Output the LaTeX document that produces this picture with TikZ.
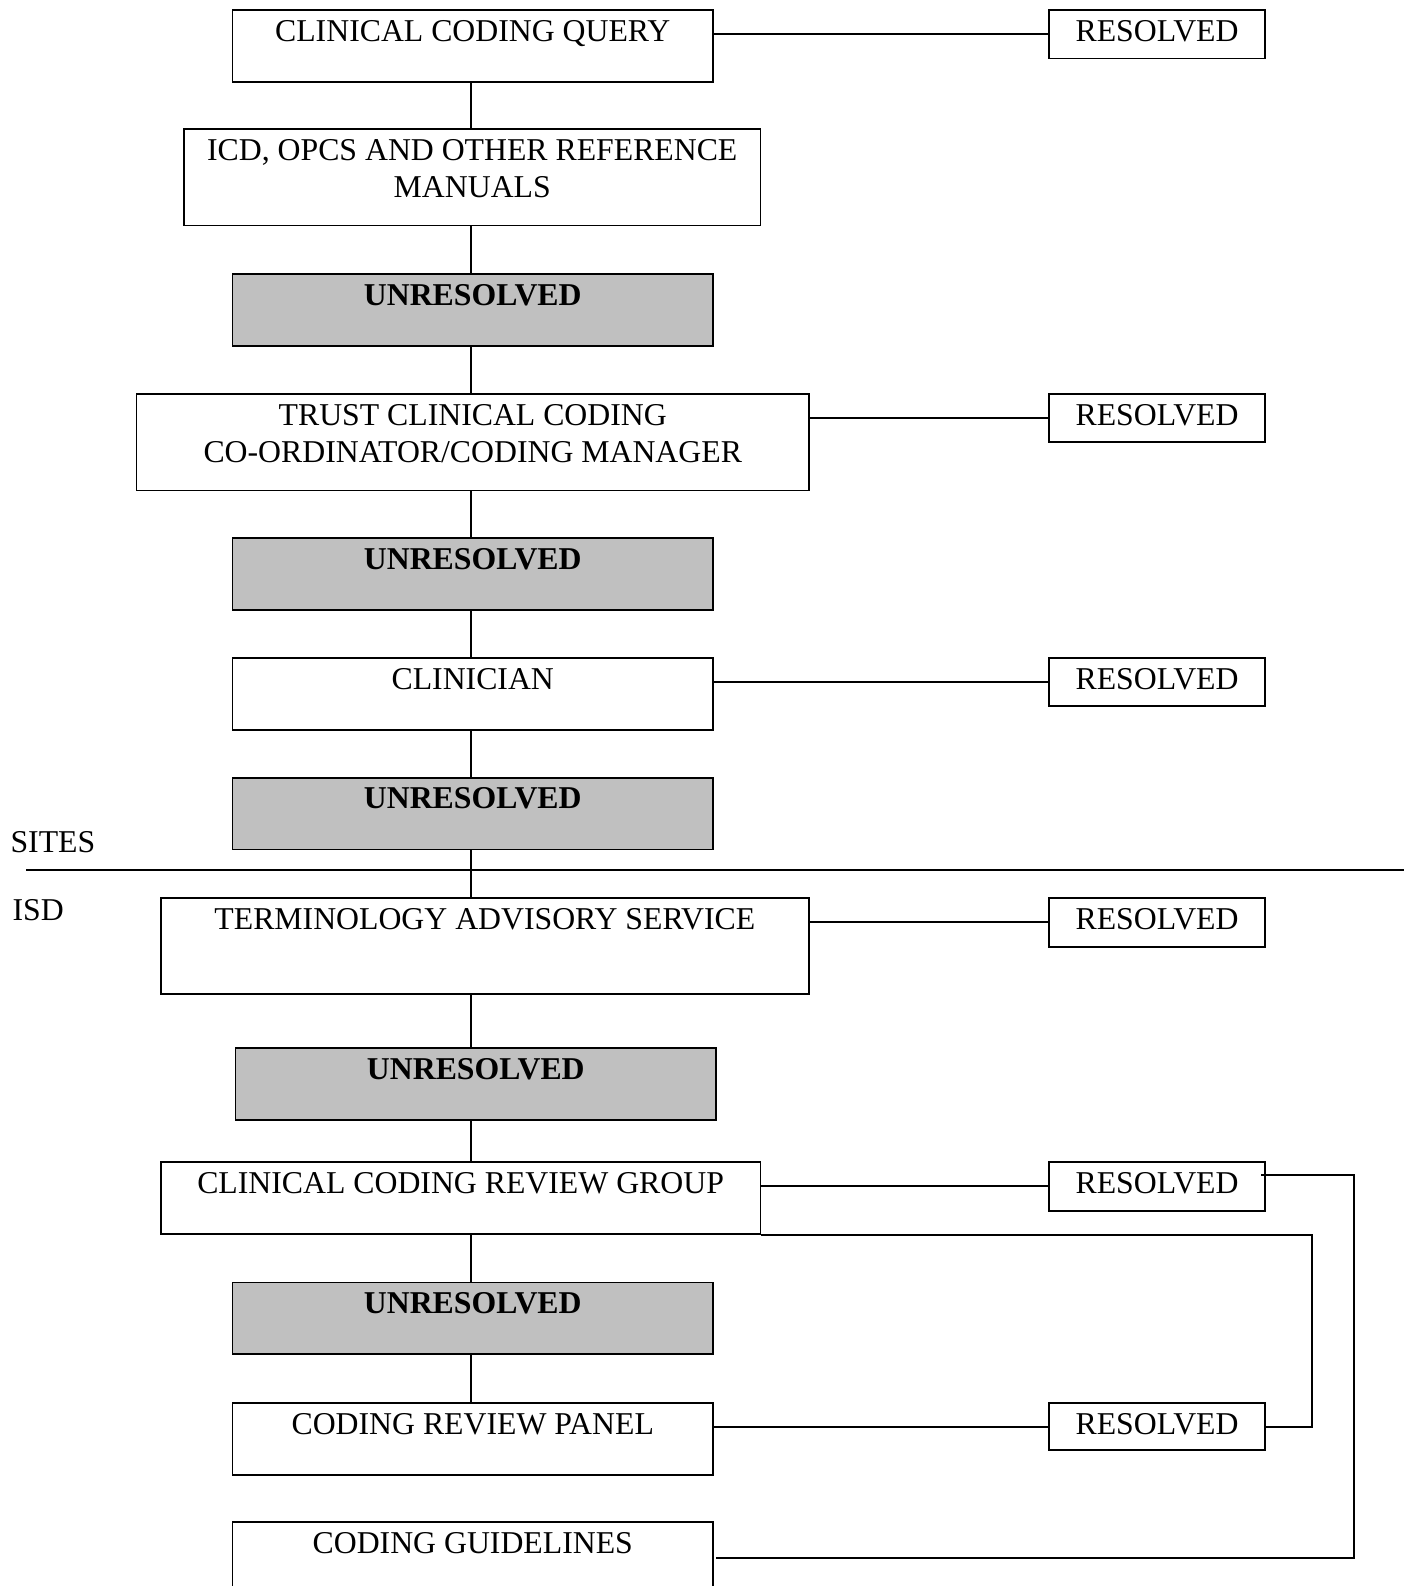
\documentclass[tikz,border=0pt]{standalone}
\usepackage{fontspec}
\setmainfont{Liberation Serif}
\definecolor{unresgray}{RGB}{192,192,192}
\begin{document}
\begin{tikzpicture}[x=0.5pt,y=-0.5pt,
  box/.style={draw,line width=0.9pt,rectangle,inner sep=0pt,anchor=north west,
    minimum width=237.5pt,minimum height=35.5pt},
  resbox/.style={box,minimum width=107pt,minimum height=24pt},
  unres/.style={box,fill=unresgray},
  txt/.style={inner sep=0pt,anchor=north,align=center,
    font=\fontsize{15.7}{18.3}\selectfont},
  btxt/.style={txt,font=\fontsize{15.7}{18.3}\selectfont\bfseries},
  conn/.style={line width=0.9pt}]
\useasboundingbox (0,0) rectangle (1393,1568);
\coordinate (sp) at (466,0);

% boxes
\node[box] (b1) at (229,9) {};
\node[resbox] (r1) at (1036,9) {};
\node[box,minimum width=285pt,minimum height=47.5pt] (b2) at (181,127) {};
\node[unres] (u1) at (229,270) {};
\node[box,minimum width=332.5pt,minimum height=47.5pt] (b3) at (134,389) {};
\node[resbox,minimum height=23.5pt] (r2) at (1036,389) {};
\node[unres] (u2) at (229,531) {};
\node[box] (cl) at (229,650) {};
\node[resbox,minimum height=23.5pt] (r3) at (1036,650) {};
\node[unres] (u3) at (229,768) {};
\node[box,minimum width=320.5pt,minimum height=47.5pt] (tas) at (158,887) {};
\node[resbox] (r4) at (1036,887) {};
\node[unres] (u4) at (232,1035) {};
\node[box,minimum width=296.5pt] (ccrg) at (158,1148) {};
\node[resbox] (r5) at (1036,1148) {};
\node[unres] (u5) at (229,1267) {};
\node[box] (crp) at (229,1386) {};
\node[resbox,minimum height=23.5pt] (r6) at (1036,1386) {};
\node[box] (cg) at (229,1504) {};

% texts
\node[txt] (t-b1) at ([yshift=-5.3pt]b1.north) {CLINICAL CODING QUERY};
\node[txt] (t-r1) at ([yshift=-5.3pt]r1.north) {RESOLVED};
\node[txt] (t-b2) at ([yshift=-5.3pt]b2.north) {ICD, OPCS AND OTHER REFERENCE\\MANUALS};
\node[btxt] (t-u1) at ([yshift=-5.3pt]u1.north) {UNRESOLVED};
\node[txt] (t-b3) at ([yshift=-5.3pt]b3.north) {TRUST CLINICAL CODING\\CO-ORDINATOR/CODING MANAGER};
\node[txt] (t-r2) at ([yshift=-5.3pt]r2.north) {RESOLVED};
\node[btxt] (t-u2) at ([yshift=-5.3pt]u2.north) {UNRESOLVED};
\node[txt] (t-cl) at ([yshift=-5.3pt]cl.north) {CLINICIAN};
\node[txt] (t-r3) at ([yshift=-5.3pt]r3.north) {RESOLVED};
\node[btxt] (t-u3) at ([yshift=-5.3pt]u3.north) {UNRESOLVED};
\node[txt] (t-tas) at ([yshift=-5.3pt]tas.north) {TERMINOLOGY ADVISORY SERVICE};
\node[txt] (t-r4) at ([yshift=-5.3pt]r4.north) {RESOLVED};
\node[btxt] (t-u4) at ([yshift=-5.3pt]u4.north) {UNRESOLVED};
\node[txt] (t-ccrg) at ([yshift=-5.3pt]ccrg.north) {CLINICAL CODING REVIEW GROUP};
\node[txt] (t-r5) at ([yshift=-5.3pt]r5.north) {RESOLVED};
\node[btxt] (t-u5) at ([yshift=-5.3pt]u5.north) {UNRESOLVED};
\node[txt] (t-crp) at ([yshift=-5.3pt]crp.north) {CODING REVIEW PANEL};
\node[txt] (t-r6) at ([yshift=-5.3pt]r6.north) {RESOLVED};
\node[txt] (t-cg) at ([yshift=-5.3pt]cg.north) {CODING GUIDELINES};

% section labels and divider
\node[inner sep=0pt,anchor=base west,font=\fontsize{15.7}{18.5}\selectfont] (sites) at (10,842.4) {SITES};
\node[inner sep=0pt,anchor=base west,font=\fontsize{15.7}{18.5}\selectfont] (isd) at (12,910.4) {ISD};
\coordinate (dl) at (26,860);
\coordinate (dr) at (1388,860);
\draw[conn] (dl) -- (dr);

% spine connectors
\foreach \a/\b in {b1/b2,b2/u1,u1/b3,b3/u2,u2/cl,cl/u3,u3/tas,tas/u4,u4/ccrg,ccrg/u5,u5/crp}
  \draw[conn] (\a.south -| sp) -- (\b.north -| sp);

% resolved connectors
\draw[conn] (r1.west) -- (r1.west -| b1.east);
\draw[conn] (r2.west) -- (r2.west -| b3.east);
\draw[conn] (r3.west) -- (r3.west -| cl.east);
\draw[conn] (r4.west) -- (r4.west -| tas.east);
\draw[conn] (r5.west) -- (r5.west -| ccrg.east);
\draw[conn] (r6.west) -- (r6.west -| crp.east);

% loops on the right
\coordinate (ka) at (1297,1219);
\draw[conn] (ccrg.south east) -- (ccrg.south east -| ka) |- (r6.east);
\coordinate (kc) at (1339,1540);
\draw[conn] ([xshift=-2.5pt,yshift=5.5pt]r5.east) -| (kc) -- ([xshift=0.8pt]kc -| cg.east);
\end{tikzpicture}
\end{document}
